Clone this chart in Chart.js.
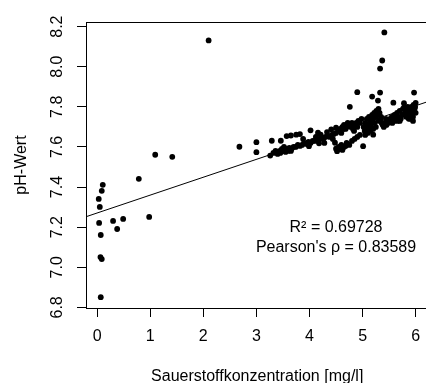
<!DOCTYPE html>
<html><head><meta charset="utf-8">
<script src="https://cdn.jsdelivr.net/npm/chart.js@4/dist/chart.umd.min.js"></script>
<style>
html,body{margin:0;padding:0;overflow:hidden;background:#fff;width:426px;height:383px}
#wrap{position:absolute;left:0;top:0;width:432px;height:390px}
</style>
</head><body><div id="wrap"><canvas id="c" width="432" height="390"></canvas></div>
<script>
// Oxygen concentration [mg/l] and pH values
const oxygen = [
  0.785,0.106,0.087,0.030,0.050,0.037,0.300,0.490,0.377,0.980,0.068,0.062,0.087,0.068,
  2.10,1.094,1.415,2.68,
  3.00,3.00,3.26,3.29,3.32,3.36,3.40,3.40,3.44,3.45,3.46,3.48,3.50,3.54,3.55,3.57,3.58,3.60,3.62,3.65,3.65,3.66,
  3.70,3.74,3.75,3.78,3.82,3.82,3.86,3.90,3.94,3.98,3.99,4.02,4.02,4.06,4.10,4.14,4.16,4.18,4.18,4.21,4.22,4.26,
  4.30,4.33,4.34,4.38,4.41,4.42,4.46,4.48,4.50,4.50,4.50,4.52,
  4.55,4.58,4.62,4.65,4.60,4.68,4.70,4.72,4.75,4.78,4.80,4.82,4.85,4.88,4.90,4.92,4.95,4.98,4.76,4.90,
  4.55,4.60,4.65,4.70,4.75,4.58,4.68,4.62,5.01,4.80,4.85,4.90,4.95,
  5.02,5.05,5.08,5.10,5.12,5.15,5.18,5.20,5.22,5.24,5.26,5.28,5.30,5.32,5.34,5.36,5.38,5.40,5.42,5.45,5.48,5.50,
  5.20,5.18,5.29,5.33,5.33,5.37,5.41,5.20,5.15,5.10,5.05,5.25,5.08,5.12,5.30,5.35,5.22,5.04,5.14,
  5.52,5.55,5.58,5.60,5.62,5.65,5.68,5.70,5.72,5.75,5.78,5.78,5.80,5.82,5.84,5.86,5.88,5.90,5.92,5.94,5.95,5.96,
  5.97,5.98,6.00,6.00,5.99,5.93,5.87,5.85,5.76,5.66,5.56,5.60,5.70,5.90,5.95,
  3.52,3.88,4.12,4.28,4.44,4.64,4.84,5.16,5.44,5.64,5.84
];
const ph = [
  7.441,7.411,7.381,7.341,7.301,7.221,7.231,7.241,7.191,7.251,7.161,7.051,7.041,6.851,
  8.131,7.561,7.551,7.601,
  7.624,7.574,7.557,7.631,7.570,7.580,7.575,7.565,7.580,7.570,7.631,7.590,7.580,7.585,7.575,7.654,7.590,7.580,7.595,7.657,7.580,7.590,
  7.600,7.600,7.661,7.610,7.664,7.605,7.610,7.620,7.615,7.625,7.604,7.683,7.620,7.630,7.630,7.640,7.671,7.618,7.635,7.661,7.645,7.640,
  7.650,7.674,7.655,7.650,7.688,7.660,7.665,7.621,7.696,7.670,7.591,7.579,
  7.680,7.690,7.700,7.710,7.670,7.690,7.700,7.720,7.710,7.700,7.720,7.690,7.710,7.720,7.700,7.730,7.720,7.740,7.800,7.873,
  7.600,7.610,7.600,7.620,7.610,7.590,7.605,7.585,7.604,7.630,7.640,7.650,7.660,
  7.700,7.720,7.740,7.710,7.750,7.730,7.760,7.740,7.770,7.750,7.780,7.760,7.790,7.770,7.740,7.720,7.710,7.700,7.720,7.710,7.720,7.730,
  7.661,7.851,7.831,7.871,7.991,8.031,8.171,7.690,7.680,7.670,7.660,7.700,7.690,7.700,7.730,7.750,7.720,7.680,7.720,
  7.740,7.750,7.821,7.760,7.740,7.770,7.750,7.780,7.740,7.760,7.818,7.796,7.770,7.750,7.780,7.760,7.790,7.770,7.800,7.780,7.750,7.810,
  7.871,7.790,7.820,7.770,7.800,7.760,7.740,7.800,7.790,7.730,7.720,7.730,7.730,7.740,7.730,
  7.600,7.640,7.650,7.620,7.640,7.690,7.680,7.700,7.740,7.760,7.770
];
// Regression line end points (at the plot box edges)
const regX = [-0.21, 6.24];
const regY = [7.252, 7.827];
// Axis ranges and tick labels
const xRange = [-0.21, 6.24];
const yRange = [6.797, 8.223];
const xTicks = [0, 1, 2, 3, 4, 5, 6];
const yTicks = [6.8, 7.0, 7.2, 7.4, 7.6, 7.8, 8.0, 8.2];
const xTitle = 'Sauerstoffkonzentration [mg/l]';
const yTitle = 'pH-Wert';
const statLines = ['R\u00B2 = 0.69728', 'Pearson\'s \u03C1 = 0.83589'];
const statX = 4.5;
const statY = [7.2, 7.1];

const FONT = "'Liberation Sans', Arial, sans-serif";
const points = oxygen.map((x, i) => ({x: x, y: ph[i]}));
const regLine = regX.map((x, i) => ({x: x, y: regY[i]}));

const boxPlugin = {
  id: 'box',
  afterDraw(chart) {
    const {ctx, chartArea: a, scales} = chart;
    ctx.save();
    ctx.strokeStyle = '#000';
    ctx.lineWidth = 1;
    ctx.strokeRect(Math.round(a.left) + 0.5, Math.round(a.top) + 0.5,
      Math.round(a.right - a.left), Math.round(a.bottom - a.top));
    ctx.fillStyle = '#000';
    ctx.font = '16px ' + FONT;
    ctx.textAlign = 'center';
    ctx.textBaseline = 'middle';
    statLines.forEach((t, i) => {
      ctx.fillText(t, scales.x.getPixelForValue(statX), scales.y.getPixelForValue(statY[i]));
    });
    ctx.restore();
  }
};

new Chart(document.getElementById('c'), {
  type: 'scatter',
  data: {
    datasets: [
      {data: points, backgroundColor: '#000', borderWidth: 0, pointRadius: 2.9, pointHoverRadius: 2.9},
      {type: 'line', data: regLine, borderColor: '#000', borderWidth: 1, pointRadius: 0, fill: false, tension: 0}
    ]
  },
  options: {
    responsive: false,
    devicePixelRatio: 1,
    animation: false,
    events: [],
    layout: {padding: {left: 0, top: 22, right: 3.6, bottom: 0}},
    plugins: {legend: {display: false}, tooltip: {enabled: false}},
    scales: {
      x: {
        type: 'linear', position: 'bottom', min: xRange[0], max: xRange[1],
        afterFit(s) { s.height = 82; },
        afterBuildTicks(s) { s.ticks = xTicks.map(v => ({value: v})); },
        border: {display: false},
        grid: {drawOnChartArea: false, drawTicks: true, tickLength: 9, color: '#000', lineWidth: 1},
        ticks: {color: '#000', font: {family: FONT, size: 16}, padding: 10, autoSkip: false, maxRotation: 0,
                callback: v => String(v)},
        title: {display: true, text: xTitle, color: '#000', font: {family: FONT, size: 16}, padding: {top: 0, bottom: 3.4}}
      },
      y: {
        type: 'linear', position: 'left', min: yRange[0], max: yRange[1],
        afterFit(s) { s.width = 86; },
        afterBuildTicks(s) { s.ticks = yTicks.map(v => ({value: v})); },
        border: {display: false},
        grid: {drawOnChartArea: false, drawTicks: true, tickLength: 9, color: '#000', lineWidth: 1},
        ticks: {color: '#000', font: {family: FONT, size: 16}, padding: 8, autoSkip: false,
                minRotation: 90, maxRotation: 90, crossAlign: 'center',
                callback: v => Number(v).toFixed(1)},
        title: {display: true, text: yTitle, color: '#000', font: {family: FONT, size: 16}, padding: {top: 12.4, bottom: 0}}
      }
    }
  },
  plugins: [boxPlugin]
});
</script>
</body></html>
